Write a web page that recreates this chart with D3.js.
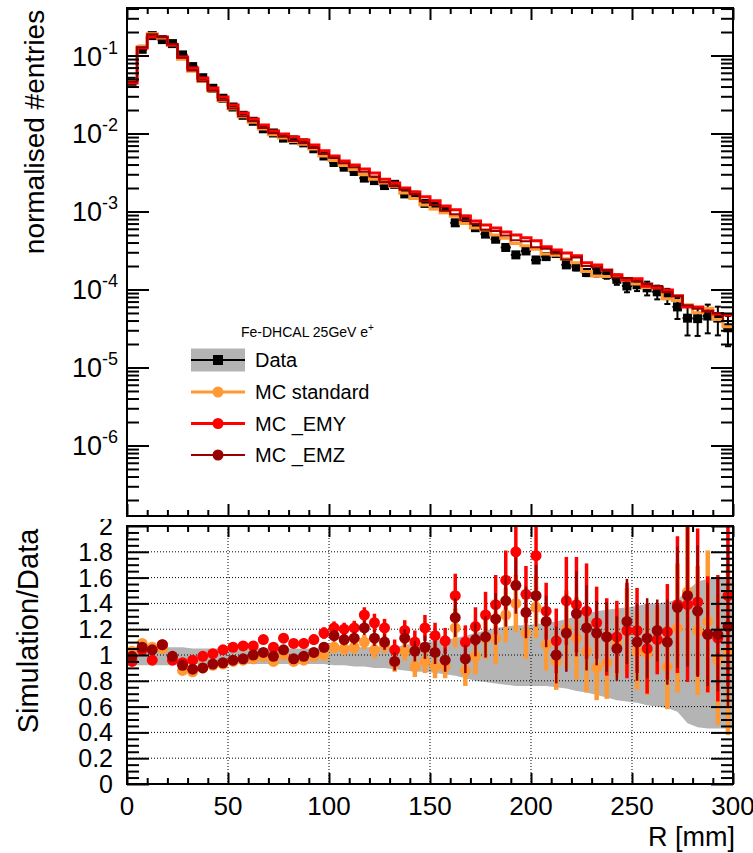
<!DOCTYPE html>
<html>
<head>
<meta charset="utf-8">
<script src="https://cdn.jsdelivr.net/npm/d3@7"></script>
<style>
  html, body { margin: 0; padding: 0; background: #fff; }
  svg text { font-family: "Liberation Sans", Arial, Helvetica, sans-serif; fill: #000; }
</style>
</head>
<body>
<div id="chart"></div>
<script>
// ▶ bins: lower edge of each R bin [mm], 5 mm wide
const binLow = [0, 5, 10, 15, 20, 25, 30, 35, 40, 45, 50, 55, 60, 65, 70, 75, 80, 85, 90, 95,
  100, 105, 110, 115, 120, 125, 130, 135, 140, 145, 150, 155, 160, 165, 170, 175, 180, 185, 190, 195,
  200, 205, 210, 215, 220, 225, 230, 235, 240, 245, 250, 255, 260, 265, 270, 275, 280, 285, 290, 295];
const binWidth = 5;

// ▶ top panel: normalised #entries
const dataVal = [0.0467, 0.1201, 0.1799, 0.1599, 0.1421, 0.1018, 0.0721, 0.0519, 0.0380, 0.0283,
  0.02186, 0.01711, 0.01434, 0.01149, 0.01015, 0.00873, 0.00828, 0.00758, 0.00637, 0.00515,
  0.00425, 0.00370, 0.00326, 0.00268, 0.00249, 0.00215, 0.00223, 0.00168, 0.00162, 0.00127,
  0.00119, 0.00106, 0.000716, 0.000796, 0.000620, 0.000513, 0.000441, 0.000346, 0.000278, 0.000312,
  0.000239, 0.000264, 0.000289, 0.000207, 0.000195, 0.000165, 0.000165, 0.000156, 0.000135, 0.000111,
  0.000115, 0.000105, 0.0000934, 0.0000835, 0.0000598, 0.0000429, 0.0000423, 0.0000457, 0.0000430, 0.0000323];
// relative statistical error of the data points
const dataErr = [0.01, 0.01, 0.01, 0.01, 0.01, 0.01, 0.01, 0.01, 0.01, 0.01,
  0.01, 0.01, 0.01, 0.01, 0.01, 0.01, 0.01, 0.01, 0.01, 0.01,
  0.02, 0.02, 0.02, 0.02, 0.02, 0.02, 0.02, 0.02, 0.02, 0.02,
  0.03, 0.03, 0.03, 0.03, 0.03, 0.05, 0.05, 0.05, 0.05, 0.05,
  0.06, 0.07, 0.08, 0.09, 0.10, 0.10, 0.11, 0.12, 0.15, 0.17,
  0.17, 0.20, 0.20, 0.22, 0.30, 0.40, 0.40, 0.40, 0.40, 0.42];
const mcStandard = [0.0481, 0.1309, 0.1907, 0.1679, 0.1378, 0.0896, 0.0627, 0.0467, 0.0350, 0.0263,
  0.02077, 0.01643, 0.01391, 0.01138, 0.00964, 0.00873, 0.00787, 0.00728, 0.00631, 0.00515,
  0.00451, 0.00389, 0.00346, 0.00295, 0.00259, 0.00232, 0.00210, 0.00173, 0.00147, 0.00121,
  0.00108, 0.000965, 0.000866, 0.000700, 0.000614, 0.000580, 0.000498, 0.000453, 0.000389, 0.000365,
  0.000327, 0.000285, 0.000275, 0.000248, 0.000220, 0.000170, 0.000149, 0.000147, 0.000147, 0.000132,
  0.000118, 0.000106, 0.000105, 0.0000760, 0.0000724, 0.0000639, 0.0000503, 0.0000576, 0.0000413, 0.0000333];
const mcEMY = [0.0444, 0.1249, 0.1727, 0.1727, 0.1364, 0.0957, 0.0692, 0.0514, 0.0384, 0.0294,
  0.02317, 0.01831, 0.01534, 0.01287, 0.01076, 0.00986, 0.00903, 0.00826, 0.00713, 0.00603,
  0.00514, 0.00444, 0.00394, 0.00351, 0.00311, 0.00260, 0.00232, 0.00200, 0.00178, 0.00154,
  0.00137, 0.00118, 0.00105, 0.000876, 0.000756, 0.000672, 0.000613, 0.000547, 0.000500, 0.000459,
  0.000423, 0.000354, 0.000321, 0.000294, 0.000271, 0.000221, 0.000206, 0.000178, 0.000154, 0.000132,
  0.000137, 0.000110, 0.000105, 0.0000985, 0.0000831, 0.0000596, 0.0000596, 0.0000530, 0.0000486, 0.0000472];
const mcEMZ = [0.0462, 0.1273, 0.1871, 0.1727, 0.1407, 0.0937, 0.0642, 0.0467, 0.0353, 0.0266,
  0.02099, 0.01660, 0.01434, 0.01172, 0.01005, 0.00908, 0.00803, 0.00750, 0.00650, 0.00546,
  0.00489, 0.00414, 0.00368, 0.00324, 0.00281, 0.00237, 0.00212, 0.00190, 0.00167, 0.00135,
  0.00121, 0.00102, 0.000924, 0.000772, 0.000694, 0.000585, 0.000564, 0.000491, 0.000428, 0.000415,
  0.000349, 0.000333, 0.000289, 0.000242, 0.000257, 0.000200, 0.000193, 0.000178, 0.000142, 0.000140,
  0.000127, 0.000119, 0.000111, 0.0000919, 0.0000819, 0.0000626, 0.0000567, 0.0000530, 0.0000499, 0.0000394];

// ▶ bottom panel: Simulation/Data
const ratioStandard = [1.03, 1.09, 1.06, 1.05, 0.97, 0.88, 0.87, 0.90, 0.92, 0.93,
  0.95, 0.96, 0.97, 0.99, 0.95, 1.00, 0.95, 0.96, 0.99, 1.00,
  1.06, 1.05, 1.06, 1.10, 1.04, 1.08, 0.94, 1.03, 0.91, 0.95,
  0.91, 0.91, 1.21, 0.88, 0.99, 1.13, 1.13, 1.31, 1.40, 1.17,
  1.37, 1.08, 0.95, 1.20, 1.13, 1.03, 0.90, 0.94, 1.09, 1.19,
  1.03, 1.01, 1.12, 0.91, 1.21, 1.49, 1.19, 1.26, 0.96, 1.03];
const ratioEMY = [0.95, 1.04, 0.96, 1.08, 0.96, 0.94, 0.96, 0.99, 1.01, 1.04,
  1.06, 1.07, 1.07, 1.12, 1.06, 1.13, 1.09, 1.09, 1.12, 1.17,
  1.21, 1.20, 1.21, 1.31, 1.25, 1.21, 1.04, 1.19, 1.10, 1.21,
  1.15, 1.11, 1.46, 1.10, 1.22, 1.31, 1.39, 1.58, 1.80, 1.47,
  1.77, 1.34, 1.11, 1.42, 1.39, 1.34, 1.25, 1.14, 1.14, 1.19,
  1.19, 1.05, 1.12, 1.18, 1.39, 1.39, 1.41, 1.16, 1.13, 1.46];
const ratioEMZ = [0.99, 1.06, 1.04, 1.08, 0.99, 0.92, 0.89, 0.90, 0.93, 0.94,
  0.96, 0.97, 1.00, 1.02, 0.99, 1.04, 0.97, 0.99, 1.02, 1.06,
  1.15, 1.12, 1.13, 1.21, 1.13, 1.10, 0.95, 1.13, 1.03, 1.06,
  1.02, 0.96, 1.29, 0.97, 1.12, 1.14, 1.28, 1.42, 1.54, 1.33,
  1.46, 1.26, 1.00, 1.17, 1.32, 1.21, 1.17, 1.14, 1.05, 1.26,
  1.10, 1.13, 1.19, 1.10, 1.37, 1.46, 1.34, 1.16, 1.16, 1.22];
const errStandard = [0.02, 0.02, 0.02, 0.02, 0.02, 0.02, 0.02, 0.02, 0.02, 0.02,
  0.02, 0.02, 0.025, 0.025, 0.03, 0.03, 0.035, 0.035, 0.04, 0.04,
  0.045, 0.05, 0.05, 0.055, 0.065, 0.065, 0.07, 0.075, 0.08, 0.09,
  0.09, 0.09, 0.15, 0.12, 0.14, 0.16, 0.20, 0.21, 0.22, 0.20,
  0.24, 0.20, 0.22, 0.30, 0.32, 0.32, 0.25, 0.28, 0.26, 0.33,
  0.30, 0.32, 0.25, 0.33, 0.50, 0.55, 0.50, 0.55, 0.50, 0.65];
const errEMY = [0.02, 0.02, 0.02, 0.02, 0.02, 0.02, 0.02, 0.02, 0.02, 0.02,
  0.02, 0.02, 0.025, 0.03, 0.03, 0.035, 0.035, 0.04, 0.04, 0.045,
  0.05, 0.05, 0.055, 0.06, 0.07, 0.07, 0.08, 0.08, 0.09, 0.10,
  0.10, 0.10, 0.17, 0.13, 0.15, 0.18, 0.23, 0.23, 0.25, 0.22,
  0.27, 0.22, 0.25, 0.34, 0.37, 0.37, 0.28, 0.30, 0.28, 0.37,
  0.33, 0.35, 0.27, 0.37, 0.53, 0.60, 0.57, 0.45, 0.49, 0.70];
const errEMZ = [0.02, 0.02, 0.02, 0.02, 0.02, 0.02, 0.02, 0.02, 0.02, 0.02,
  0.02, 0.02, 0.02, 0.025, 0.025, 0.03, 0.03, 0.035, 0.035, 0.04,
  0.045, 0.045, 0.05, 0.055, 0.06, 0.06, 0.07, 0.07, 0.08, 0.09,
  0.09, 0.09, 0.15, 0.11, 0.13, 0.16, 0.20, 0.20, 0.22, 0.20,
  0.24, 0.20, 0.22, 0.30, 0.33, 0.33, 0.25, 0.27, 0.25, 0.33,
  0.30, 0.31, 0.24, 0.33, 0.47, 0.55, 0.51, 0.40, 0.44, 0.62];
// grey band: data uncertainty around 1
const bandLow = [0.92, 0.92, 0.92, 0.92, 0.92, 0.92, 0.93, 0.93, 0.93, 0.93,
  0.93, 0.93, 0.93, 0.93, 0.93, 0.93, 0.93, 0.93, 0.93, 0.93,
  0.92, 0.92, 0.91, 0.91, 0.90, 0.90, 0.89, 0.88, 0.87, 0.87,
  0.86, 0.85, 0.84, 0.82, 0.80, 0.79, 0.78, 0.77, 0.76, 0.76,
  0.76, 0.76, 0.75, 0.74, 0.72, 0.71, 0.69, 0.67, 0.65, 0.64,
  0.63, 0.61, 0.60, 0.59, 0.56, 0.47, 0.44, 0.43, 0.43, 0.43];
const bandHigh = [1.06, 1.06, 1.06, 1.06, 1.06, 1.06, 1.05, 1.05, 1.05, 1.05,
  1.05, 1.05, 1.05, 1.05, 1.05, 1.05, 1.05, 1.05, 1.05, 1.05,
  1.06, 1.06, 1.06, 1.06, 1.06, 1.06, 1.06, 1.08, 1.09, 1.10,
  1.11, 1.12, 1.13, 1.15, 1.17, 1.19, 1.21, 1.22, 1.23, 1.23,
  1.24, 1.25, 1.26, 1.28, 1.30, 1.32, 1.34, 1.35, 1.36, 1.37,
  1.38, 1.40, 1.40, 1.41, 1.43, 1.50, 1.57, 1.59, 1.60, 1.60];

// ▶ ticks and labels
const xMajor = [0, 50, 100, 150, 200, 250, 300];
const logMajor = [1e-6, 1e-5, 1e-4, 1e-3, 1e-2, 1e-1];
const logLabels = ["-6", "-5", "-4", "-3", "-2", "-1"];
const ratioMajor = [0, 0.2, 0.4, 0.6, 0.8, 1, 1.2, 1.4, 1.6, 1.8, 2];
const legendTitle = "Fe-DHCAL 25GeV e";

const series = [
    { name: "MC standard", color: "#ff9933", top: mcStandard, ratio: ratioStandard, err: errStandard, lw: 3, ew: 4.5 },
    { name: "MC _EMY", color: "#ff0000", top: mcEMY, ratio: ratioEMY, err: errEMY, lw: 3, ew: 3.5 },
    { name: "MC _EMZ", color: "#990000", top: mcEMZ, ratio: ratioEMZ, err: errEMZ, lw: 2, ew: 2.5 }
];

// ▶ canvas and scales
const W = 753, H = 853;
const L = 127, R = 733;
const topY0 = 8, topY1 = 516, botY0 = 526, botY1 = 784;

const svg = d3.select("#chart").append("svg")
    .attr("width", W)
    .attr("height", H);

const x = d3.scaleLinear().domain([0, 300]).range([L, R]);
const yTop = d3.scaleLog().domain([Math.pow(10, -6.904), Math.pow(10, -0.391)]).range([topY1, topY0]);
const yRat = d3.scaleLinear().domain([0, 2]).range([botY1, botY0]);

const defs = svg.append("defs");
defs.append("clipPath").attr("id", "clipTop")
    .append("rect").attr("x", L).attr("y", topY0).attr("width", R - L).attr("height", topY1 - topY0);
defs.append("clipPath").attr("id", "clipBot")
    .append("rect").attr("x", L).attr("y", botY0).attr("width", R - L).attr("height", botY1 - botY0);
defs.append("clipPath").attr("id", "clipBotPad")
    .append("rect").attr("x", 0).attr("y", 519).attr("width", W).attr("height", H - 519);

const xc = i => x(binLow[i] + binWidth / 2);

// ▶ ticks drawn inward on all four sides with d3 axes
function inwardTicks(g, axisGen, scale, values, len, transform) {
    g.append("g")
        .attr("transform", transform)
        .call(axisGen(scale).tickValues(values).tickSize(-len).tickFormat(""))
        .call(a => a.select(".domain").remove())
        .call(a => a.selectAll("line").attr("stroke", "#000").attr("stroke-width", 2));
}

const xMinor = d3.range(0, 301, 10).filter(v => v % 50 !== 0);
const logMinor = [];
for (let e = -7; e <= -1; e++) {
    for (let m = 2; m <= 9; m++) {
        const v = m * Math.pow(10, e);
        if (v > yTop.domain()[0] && v < yTop.domain()[1]) logMinor.push(v);
    }
}
const ratioMinor = d3.range(0, 2.001, 0.05).map(v => +v.toFixed(2)).filter(v => ratioMajor.indexOf(v) < 0);

// ================= TOP PANEL =================
const topPanel = svg.append("g").attr("class", "topPanel");

const topPlot = topPanel.append("g").attr("clip-path", "url(#clipTop)");

// data points: horizontal bin bar, vertical error with caps, square marker
const dataG = topPlot.append("g").attr("class", "data");
dataVal.forEach((v, i) => {
    const cx = xc(i);
    const lo = v * (1 - dataErr[i]);
    const hi = v * (1 + dataErr[i]);
    dataG.append("line")
        .attr("x1", x(binLow[i])).attr("x2", x(binLow[i] + binWidth))
        .attr("y1", yTop(v)).attr("y2", yTop(v))
        .attr("stroke", "#000").attr("stroke-width", 2);
    dataG.append("line")
        .attr("x1", cx).attr("x2", cx)
        .attr("y1", yTop(lo)).attr("y2", yTop(hi))
        .attr("stroke", "#000").attr("stroke-width", 2);
    [lo, hi].forEach(e => {
        dataG.append("line")
            .attr("x1", cx - 3).attr("x2", cx + 3)
            .attr("y1", yTop(e)).attr("y2", yTop(e))
            .attr("stroke", "#000").attr("stroke-width", 2);
    });
    dataG.append("rect")
        .attr("x", cx - 4.5).attr("y", yTop(v) - 4.5)
        .attr("width", 9).attr("height", 9)
        .attr("fill", "#000");
});

// MC histograms as step lines
const stepLine = d3.line()
    .x(d => x(d.r))
    .y(d => yTop(d.v))
    .curve(d3.curveStepAfter);

series.forEach(s => {
    const pts = binLow.map((r, i) => ({ r: r, v: s.top[i] }));
    pts.push({ r: 300, v: s.top[s.top.length - 1] });
    topPlot.append("path")
        .datum(pts)
        .attr("d", stepLine)
        .attr("fill", "none")
        .attr("stroke", s.color)
        .attr("stroke-width", s.lw);
});

// frame and ticks
inwardTicks(topPanel, d3.axisBottom, x, xMinor, 6, `translate(0,${topY1})`);
inwardTicks(topPanel, d3.axisBottom, x, xMajor, 12, `translate(0,${topY1})`);
inwardTicks(topPanel, d3.axisTop, x, xMinor, 6, `translate(0,${topY0})`);
inwardTicks(topPanel, d3.axisTop, x, xMajor, 12, `translate(0,${topY0})`);
inwardTicks(topPanel, d3.axisLeft, yTop, logMinor, 12, `translate(${L},0)`);
inwardTicks(topPanel, d3.axisLeft, yTop, logMajor, 22, `translate(${L},0)`);
inwardTicks(topPanel, d3.axisRight, yTop, logMinor, 12, `translate(${R},0)`);
inwardTicks(topPanel, d3.axisRight, yTop, logMajor, 22, `translate(${R},0)`);

topPanel.append("rect")
    .attr("x", L).attr("y", topY0)
    .attr("width", R - L).attr("height", topY1 - topY0)
    .attr("fill", "none").attr("stroke", "#000").attr("stroke-width", 2);

// log labels 10^n
logMajor.forEach((v, i) => {
    const t = topPanel.append("text")
        .attr("x", 118)
        .attr("y", yTop(v) + 10)
        .attr("text-anchor", "end")
        .style("font-size", "27px");
    t.append("tspan").text("10");
    t.append("tspan").attr("dy", -12).style("font-size", "18px").text(logLabels[i]);
});

topPanel.append("text")
    .attr("transform", "translate(44,132) rotate(-90)")
    .attr("text-anchor", "middle")
    .style("font-size", "28px")
    .text("normalised #entries");

// legend
const leg = topPanel.append("g").attr("class", "legend");
const legT = leg.append("text")
    .attr("x", 241).attr("y", 337)
    .style("font-size", "14px");
legT.append("tspan").text(legendTitle);
legT.append("tspan").attr("dy", -6).style("font-size", "10px").text("+");

const rowY = [360, 392, 423.5, 455];
leg.append("rect")
    .attr("x", 191).attr("y", rowY[0] - 11.5)
    .attr("width", 54).attr("height", 23)
    .attr("fill", "#b4b4b4");
leg.append("line")
    .attr("x1", 191).attr("x2", 245)
    .attr("y1", rowY[0]).attr("y2", rowY[0])
    .attr("stroke", "#000").attr("stroke-width", 2);
leg.append("rect")
    .attr("x", 218 - 5).attr("y", rowY[0] - 5)
    .attr("width", 10).attr("height", 10)
    .attr("fill", "#000");
leg.append("text")
    .attr("x", 255).attr("y", rowY[0] + 7)
    .style("font-size", "20px")
    .text("Data");

series.forEach((s, k) => {
    const yy = rowY[k + 1];
    leg.append("line")
        .attr("x1", 191).attr("x2", 245)
        .attr("y1", yy).attr("y2", yy)
        .attr("stroke", s.color).attr("stroke-width", s.lw);
    leg.append("circle")
        .attr("cx", 218).attr("cy", yy).attr("r", 5.5)
        .attr("fill", s.color);
    leg.append("text")
        .attr("x", 255).attr("y", yy + 7)
        .style("font-size", "20px")
        .text(s.name);
});

// ================= BOTTOM PANEL =================
const ratioPanel = svg.append("g").attr("class", "ratioPanel");
const botPlot = ratioPanel.append("g").attr("clip-path", "url(#clipBot)");

// grey data uncertainty band
const bandPts = binLow.map((r, i) => ({ r: r + binWidth / 2, lo: bandLow[i], hi: bandHigh[i] }));
bandPts.unshift({ r: 0, lo: bandLow[0], hi: bandHigh[0] });
bandPts.push({ r: 300, lo: bandLow[bandLow.length - 1], hi: bandHigh[bandHigh.length - 1] });

botPlot.append("path")
    .datum(bandPts)
    .attr("d", d3.area().x(d => x(d.r)).y0(d => yRat(d.lo)).y1(d => yRat(d.hi)))
    .attr("fill", "#b4b4b4");

// dotted grid
const grid = botPlot.append("g").attr("class", "grid");
grid.selectAll(".gx")
    .data(xMajor.slice(1, -1))
    .enter().append("line")
    .attr("x1", d => x(d)).attr("x2", d => x(d))
    .attr("y1", botY0).attr("y2", botY1);
grid.selectAll(".gy")
    .data(ratioMajor.slice(1, -1))
    .enter().append("line")
    .attr("x1", L).attr("x2", R)
    .attr("y1", d => yRat(d)).attr("y2", d => yRat(d));
grid.selectAll("line")
    .attr("stroke", "#000").attr("stroke-width", 1).attr("stroke-dasharray", "1,2");

// ratio points with error bars
series.forEach(s => {
    const g = botPlot.append("g");
    g.selectAll("line")
        .data(s.ratio)
        .enter().append("line")
        .attr("x1", (d, i) => xc(i)).attr("x2", (d, i) => xc(i))
        .attr("y1", (d, i) => yRat(d - s.err[i]))
        .attr("y2", (d, i) => yRat(d + s.err[i]))
        .attr("stroke", s.color).attr("stroke-width", s.ew);
    g.selectAll("circle")
        .data(s.ratio)
        .enter().append("circle")
        .attr("cx", (d, i) => xc(i))
        .attr("cy", d => yRat(d))
        .attr("r", 5.5)
        .attr("fill", s.color);
});

// frame and ticks
inwardTicks(ratioPanel, d3.axisBottom, x, xMinor, 6, `translate(0,${botY1})`);
inwardTicks(ratioPanel, d3.axisBottom, x, xMajor, 11, `translate(0,${botY1})`);
inwardTicks(ratioPanel, d3.axisTop, x, xMinor, 6, `translate(0,${botY0})`);
inwardTicks(ratioPanel, d3.axisTop, x, xMajor, 11, `translate(0,${botY0})`);
inwardTicks(ratioPanel, d3.axisLeft, yRat, ratioMinor, 12, `translate(${L},0)`);
inwardTicks(ratioPanel, d3.axisLeft, yRat, ratioMajor, 22, `translate(${L},0)`);
inwardTicks(ratioPanel, d3.axisRight, yRat, ratioMinor, 12, `translate(${R},0)`);
inwardTicks(ratioPanel, d3.axisRight, yRat, ratioMajor, 22, `translate(${R},0)`);

ratioPanel.append("rect")
    .attr("x", L).attr("y", botY0)
    .attr("width", R - L).attr("height", botY1 - botY0)
    .attr("fill", "none").attr("stroke", "#000").attr("stroke-width", 2);

// labels (clipped at the top of the lower pad)
const botLabels = ratioPanel.append("g").attr("clip-path", "url(#clipBotPad)");
botLabels.selectAll(".ylab")
    .data(ratioMajor)
    .enter().append("text")
    .attr("x", 113)
    .attr("y", d => yRat(d))
    .attr("dy", "0.36em")
    .attr("text-anchor", "end")
    .style("font-size", "25px")
    .text(d => String(+d.toFixed(1)));

botLabels.selectAll(".xlab")
    .data(xMajor)
    .enter().append("text")
    .attr("x", d => x(d))
    .attr("y", 815)
    .attr("text-anchor", "middle")
    .style("font-size", "26px")
    .text(d => d);

botLabels.append("text")
    .attr("x", 735).attr("y", 846)
    .attr("text-anchor", "end")
    .style("font-size", "27px")
    .text("R [mm]");

botLabels.append("text")
    .attr("transform", "translate(38,631) rotate(-90)")
    .attr("text-anchor", "middle")
    .style("font-size", "29px")
    .text("Simulation/Data");
</script>
</body>
</html>
